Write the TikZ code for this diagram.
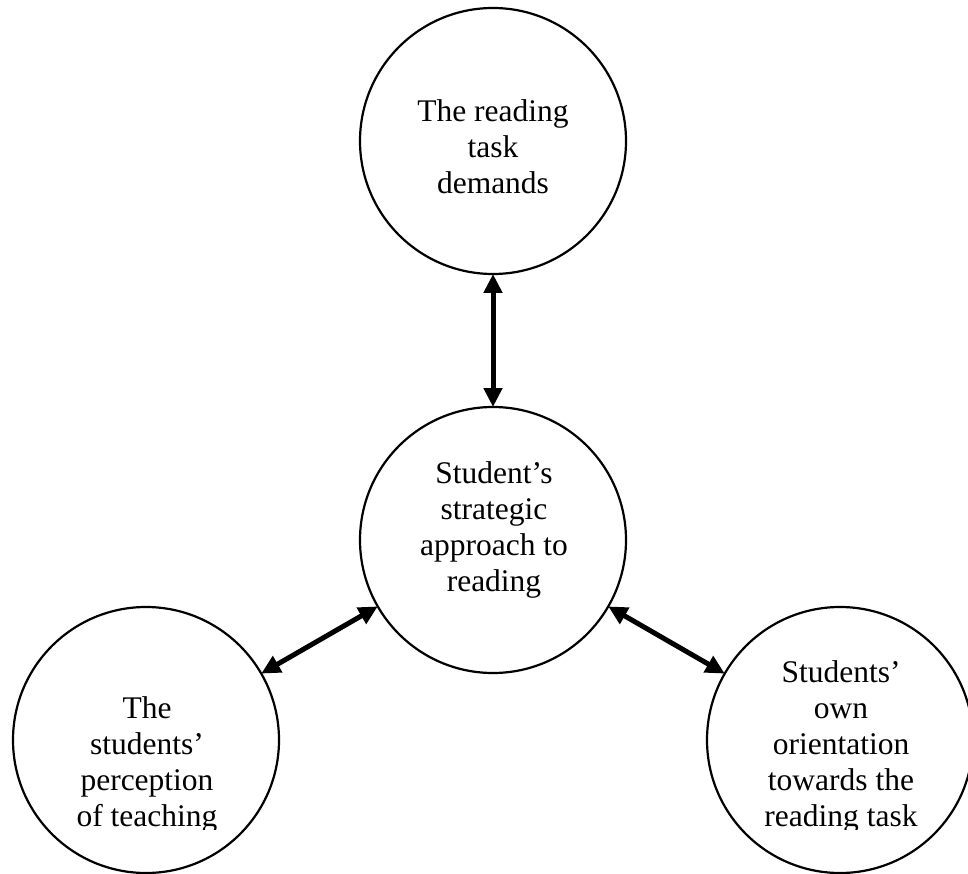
\documentclass[tikz,border=0pt]{standalone}
\usepackage{fontspec}
\setmainfont{Liberation Serif}
\usetikzlibrary{arrows.meta}
\begin{document}
\begin{tikzpicture}[x=1pt,y=-1pt,
  bubble/.style={circle, draw, line width=2.2pt, minimum size=266pt, inner sep=0pt, outer sep=0pt},
  txt/.style={font=\fontsize{31.5}{36}\selectfont, align=center, anchor=base, inner sep=0pt},
  link/.style={{Triangle[length=19pt,width=18pt]}-{Triangle[length=19pt,width=18pt]}, line width=5pt}
]
\clip (0,0) rectangle (968,874);
\node[bubble] (task) at (493,141) {};
\node[bubble] (approach) at (493,540) {};
\node[bubble] (teaching) at (146,740) {};
\node[bubble] (orient) at (840,740) {};
\node[txt] (tasktext) at (493,194) {The reading\\task\\demands};
\node[txt] (apptext) at (494,591) {Student’s\\strategic\\approach to\\reading};
\begin{scope}
  \clip (0,0) rectangle (968,829);
  \node[txt] (teachtext) at (147,826) {The\\students’\\perception\\of teaching};
  \node[txt] (orienttext) at (841,826) {Students’\\own\\orientation\\towards the\\reading task};
\end{scope}
\draw[link] (task) -- (approach);
\draw[link] (teaching) -- (approach);
\draw[link] (approach) -- (orient);
\end{tikzpicture}
\end{document}
